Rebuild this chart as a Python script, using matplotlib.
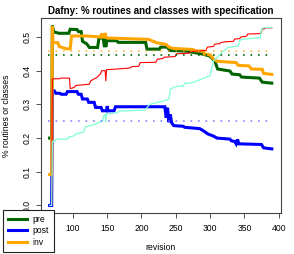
import matplotlib
matplotlib.use('Agg')
import matplotlib.pyplot as plt

plt.rcParams['font.family'] = ['Liberation Sans', 'DejaVu Sans']

# pre (routines with preconditions)
rev_pre = [66, 69, 70, 72, 80, 94, 96, 106, 108, 112, 114, 120, 124, 136, 138, 144, 146, 147, 148, 149,
           164, 166, 206, 208, 226, 228, 238, 241, 266, 290, 300, 307, 311, 329, 332, 343, 346, 372, 376, 390]
pre = [0.2, 0.2, 0.534, 0.515, 0.511, 0.511, 0.523, 0.522, 0.516, 0.516, 0.487, 0.48, 0.469, 0.469, 0.497, 0.497,
       0.47, 0.505, 0.47, 0.489, 0.489, 0.484, 0.484, 0.464, 0.464, 0.47, 0.47, 0.46, 0.458, 0.449, 0.443, 0.428,
       0.405, 0.399, 0.39, 0.388, 0.381, 0.378, 0.366, 0.363]

# post
rev_post = [66, 69, 70, 73, 75, 81, 83, 90, 92, 106, 108, 112, 114, 121, 123, 131, 133, 141, 143, 149, 150, 151,
            160, 162, 234, 236, 238, 240, 242, 244, 247, 261, 263, 285, 290, 297, 305, 310, 329, 331, 336, 338,
            340, 342, 375, 378, 390]
post = [0.0, 0.0, 0.34, 0.34, 0.333, 0.333, 0.33, 0.33, 0.338, 0.338, 0.33, 0.33, 0.316, 0.316, 0.306, 0.306,
        0.291, 0.291, 0.281, 0.281, 0.295, 0.281, 0.281, 0.293, 0.293, 0.26, 0.29, 0.247, 0.27, 0.245, 0.237,
        0.235, 0.232, 0.228, 0.222, 0.212, 0.206, 0.2, 0.197, 0.192, 0.19, 0.183, 0.196, 0.183, 0.181, 0.171, 0.168]

# inv
rev_inv = [66, 69, 70, 71, 78, 80, 90, 96, 98, 120, 140, 142, 143, 146, 147, 148, 150, 180, 210, 222, 236, 240,
           246, 275, 278, 290, 292, 300, 305, 310, 338, 341, 357, 360, 376, 378, 390]
inv = [0.092, 0.092, 0.533, 0.483, 0.483, 0.472, 0.465, 0.465, 0.503, 0.503, 0.5, 0.51, 0.5, 0.5, 0.512, 0.5,
       0.497, 0.495, 0.493, 0.483, 0.478, 0.47, 0.466, 0.463, 0.459, 0.458, 0.449, 0.447, 0.435, 0.428, 0.424,
       0.416, 0.414, 0.405, 0.404, 0.392, 0.389]

# classes (red)
rev_cls = [66, 69, 70, 80, 82, 95, 96, 102, 104, 124, 126, 135, 140, 142, 147, 148, 149, 165, 183, 186, 196, 198,
           221, 223, 231, 233, 249, 251, 270, 272, 294, 296, 305, 307, 314, 316, 324, 334, 336, 343, 345, 353,
           355, 374, 376, 379, 380, 390]
cls = [0.0, 0.0, 0.376, 0.376, 0.378, 0.378, 0.347, 0.35, 0.356, 0.36, 0.37, 0.38, 0.39, 0.4, 0.4, 0.37, 0.403,
       0.405, 0.408, 0.412, 0.413, 0.424, 0.425, 0.434, 0.436, 0.44, 0.442, 0.45, 0.452, 0.457, 0.46, 0.47, 0.472,
       0.479, 0.48, 0.484, 0.486, 0.487, 0.494, 0.495, 0.5, 0.502, 0.509, 0.51, 0.524, 0.524, 0.527, 0.527]

# classes with invariants (aquamarine)
rev_cinv = [66, 69, 70, 74, 76, 92, 94, 102, 104, 116, 118, 134, 136, 143, 145, 147, 148, 149, 165, 167, 205,
            212, 222, 240, 242, 248, 261, 263, 275, 300, 302, 305, 310, 317, 326, 341, 343, 346, 373, 375, 378, 390]
cinv = [0.0, 0.0, 0.19, 0.192, 0.197, 0.197, 0.203, 0.207, 0.212, 0.218, 0.233, 0.242, 0.245, 0.25, 0.266,
        0.27, 0.247, 0.272, 0.275, 0.28, 0.283, 0.3, 0.305, 0.315, 0.345, 0.352, 0.355, 0.362, 0.365, 0.385,
        0.404, 0.429, 0.439, 0.454, 0.469, 0.473, 0.488, 0.493, 0.498, 0.523, 0.528, 0.528]

# averages (dotted)
mean_inv = 0.457
mean_pre = 0.448
mean_post = 0.251
mean_span = [64, 387]

fig = plt.figure(figsize=(2.94, 2.54), dpi=100)
ax = fig.add_axes([0.1384, 0.1626, 0.8164, 0.7654])

ax.plot(rev_pre, pre, color='darkgreen', lw=2.2, solid_joinstyle='miter')
ax.plot(rev_post, post, color='blue', lw=2.2, solid_joinstyle='miter')
ax.plot(rev_inv, inv, color='orange', lw=2.2, solid_joinstyle='miter')
ax.plot(rev_cls, cls, color='red', lw=0.8)
ax.plot(rev_cinv, cinv, color='aquamarine', lw=0.9)

ax.hlines(mean_inv, mean_span[0], mean_span[1], color='orange', lw=1.2, linestyles=(0, (1, 3.5)), alpha=0.7)
ax.hlines(mean_pre, mean_span[0], mean_span[1], color='darkgreen', lw=1.2, linestyles=(0, (1, 3.5)))
ax.hlines(mean_post, mean_span[0], mean_span[1], color='#6666ff', lw=1.2, linestyles=(0, (1, 3.5)), alpha=0.8)

ax.set_xlim(53, 403)
ax.set_ylim(-0.0214, 0.5555)
ax.set_xticks([100, 150, 200, 250, 300, 350, 400])
ax.set_yticks([0.0, 0.1, 0.2, 0.3, 0.4, 0.5])
ax.set_yticklabels(['0.0', '0.1', '0.2', '0.3', '0.4', '0.5'], rotation=90, va='center')
ax.tick_params(labelsize=6.2, length=3.6, width=0.6, color='#333333', pad=4.5)
ax.tick_params(axis='y', pad=3)
for s in ax.spines.values():
    s.set_linewidth(0.8)
    s.set_color('#444444')

fig.text(0.547, 1 - 10.5 / 254, 'Dafny: % routines and classes with specification',
         ha='center', va='center', fontsize=7.0, fontweight='bold')
fig.text(0.547, 1 - 248 / 254, 'revision', ha='center', va='center', fontsize=6.2)
fig.text(7 / 294, 0.5454, '% routines or classes', ha='center', va='center', rotation=90, fontsize=6.2)

handles = [plt.Line2D([], [], color=c, lw=2.2) for c in ['darkgreen', 'blue', 'orange']]
leg = fig.legend(handles, ['pre', 'post', 'inv'], loc='lower left', bbox_to_anchor=(2.7 / 294, 2.3 / 254),
                 fontsize=6.2, handlelength=2.2, handletextpad=0.6, labelspacing=0.25, borderpad=0.6,
                 borderaxespad=0, frameon=True, fancybox=False, framealpha=1)
leg.get_frame().set_edgecolor('#222222')
leg.get_frame().set_linewidth(0.8)
leg.set_zorder(10)

fig.savefig('out.png', dpi=100)
